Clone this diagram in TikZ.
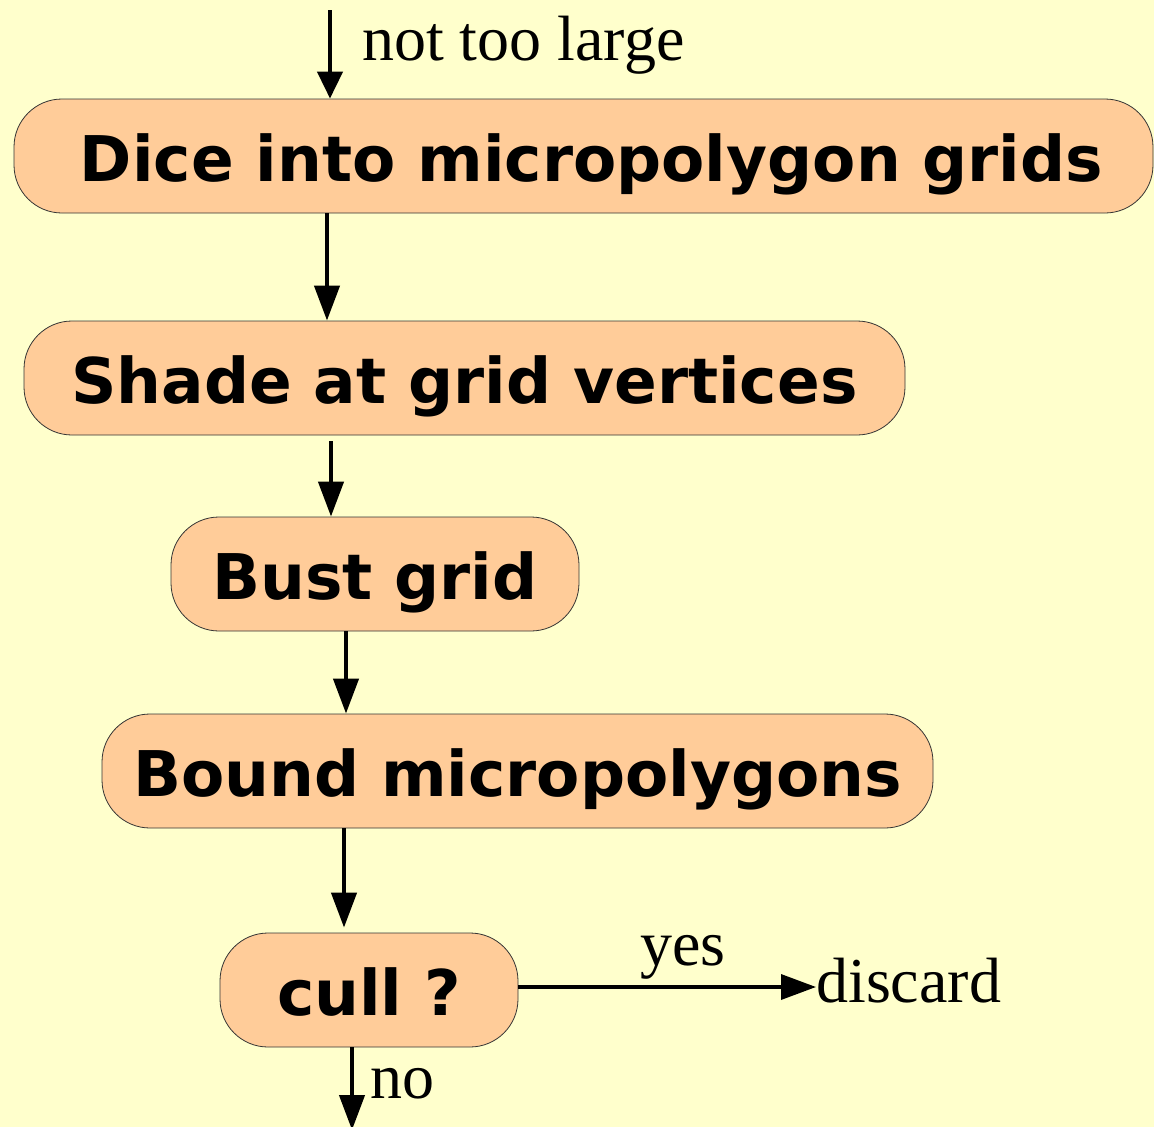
\documentclass[tikz,border=0pt]{standalone}
\usepackage{fontspec}
\setmainfont{Liberation Serif}
\newfontfamily\boxfont{DejaVu Sans}
\usetikzlibrary{arrows.meta}
\definecolor{bgyellow}{HTML}{FFFFCC}
\definecolor{boxfill}{HTML}{FFCC99}
\tikzset{
  stepbox/.style={draw=black!80, line width=0.8pt, fill=boxfill, rounded corners=48pt,
    minimum height=114pt, inner sep=0pt, text height=50pt, text depth=0pt,
    font=\boxfont\bfseries\fontsize{63}{70}\selectfont},
  flow/.style={line width=4.3pt, -{Triangle[length=35pt,width=25pt]}},
  lbl/.style={inner sep=0pt, font=\fontsize{64}{70}\selectfont}
}
\begin{document}
\begin{tikzpicture}[x=1pt,y=-1pt]
\fill[bgyellow] (0,0) rectangle (1154,1127);
\useasboundingbox (0,0) rectangle (1154,1127);
\node[stepbox, minimum width=1139pt] (dice) at (583.5,156) {\hspace*{16pt}Dice into micropolygon grids};
\node[stepbox, minimum width=881pt] (shade) at (464.5,378) {Shade at grid vertices};
\node[stepbox, minimum width=408pt] (bust) at (375,574) {Bust grid};
\node[stepbox, minimum width=831pt] (bound) at (517.5,771) {Bound micropolygons};
\node[stepbox, minimum width=298pt] (cull) at (369,990) {cull ?};
\coordinate (top) at (330,10);
\coordinate (bottom) at (352,1130);
\node[lbl, anchor=base west] (discard) at (816,1002) {discard};
\node[lbl, anchor=base west] (ntl) at (362,60) {not too large};
\draw[flow, -{Triangle[length=27pt,width=25pt]}] (top) -- (top |- dice.north);
\draw[flow] (327,0 |- dice.south) -- (327,0 |- shade.north);
\draw[flow, shorten <=6pt] (331,0 |- shade.south) -- (331,0 |- bust.north);
\draw[flow] (346,0 |- bust.south) -- (346,0 |- bound.north);
\draw[flow, shorten >=5pt] (344,0 |- bound.south) -- (344,0 |- cull.north);
\draw[flow, line width=3.5pt] (cull.east |- 0,987) -- (discard.west |- 0,987)
  node[lbl, pos=0.404, anchor=base west, yshift=22pt] (yes) {yes};
\draw[flow] (bottom |- cull.south) -- (bottom)
  node[lbl, pos=0.62, anchor=base west, xshift=16pt] (no) {no};
\end{tikzpicture}
\end{document}
